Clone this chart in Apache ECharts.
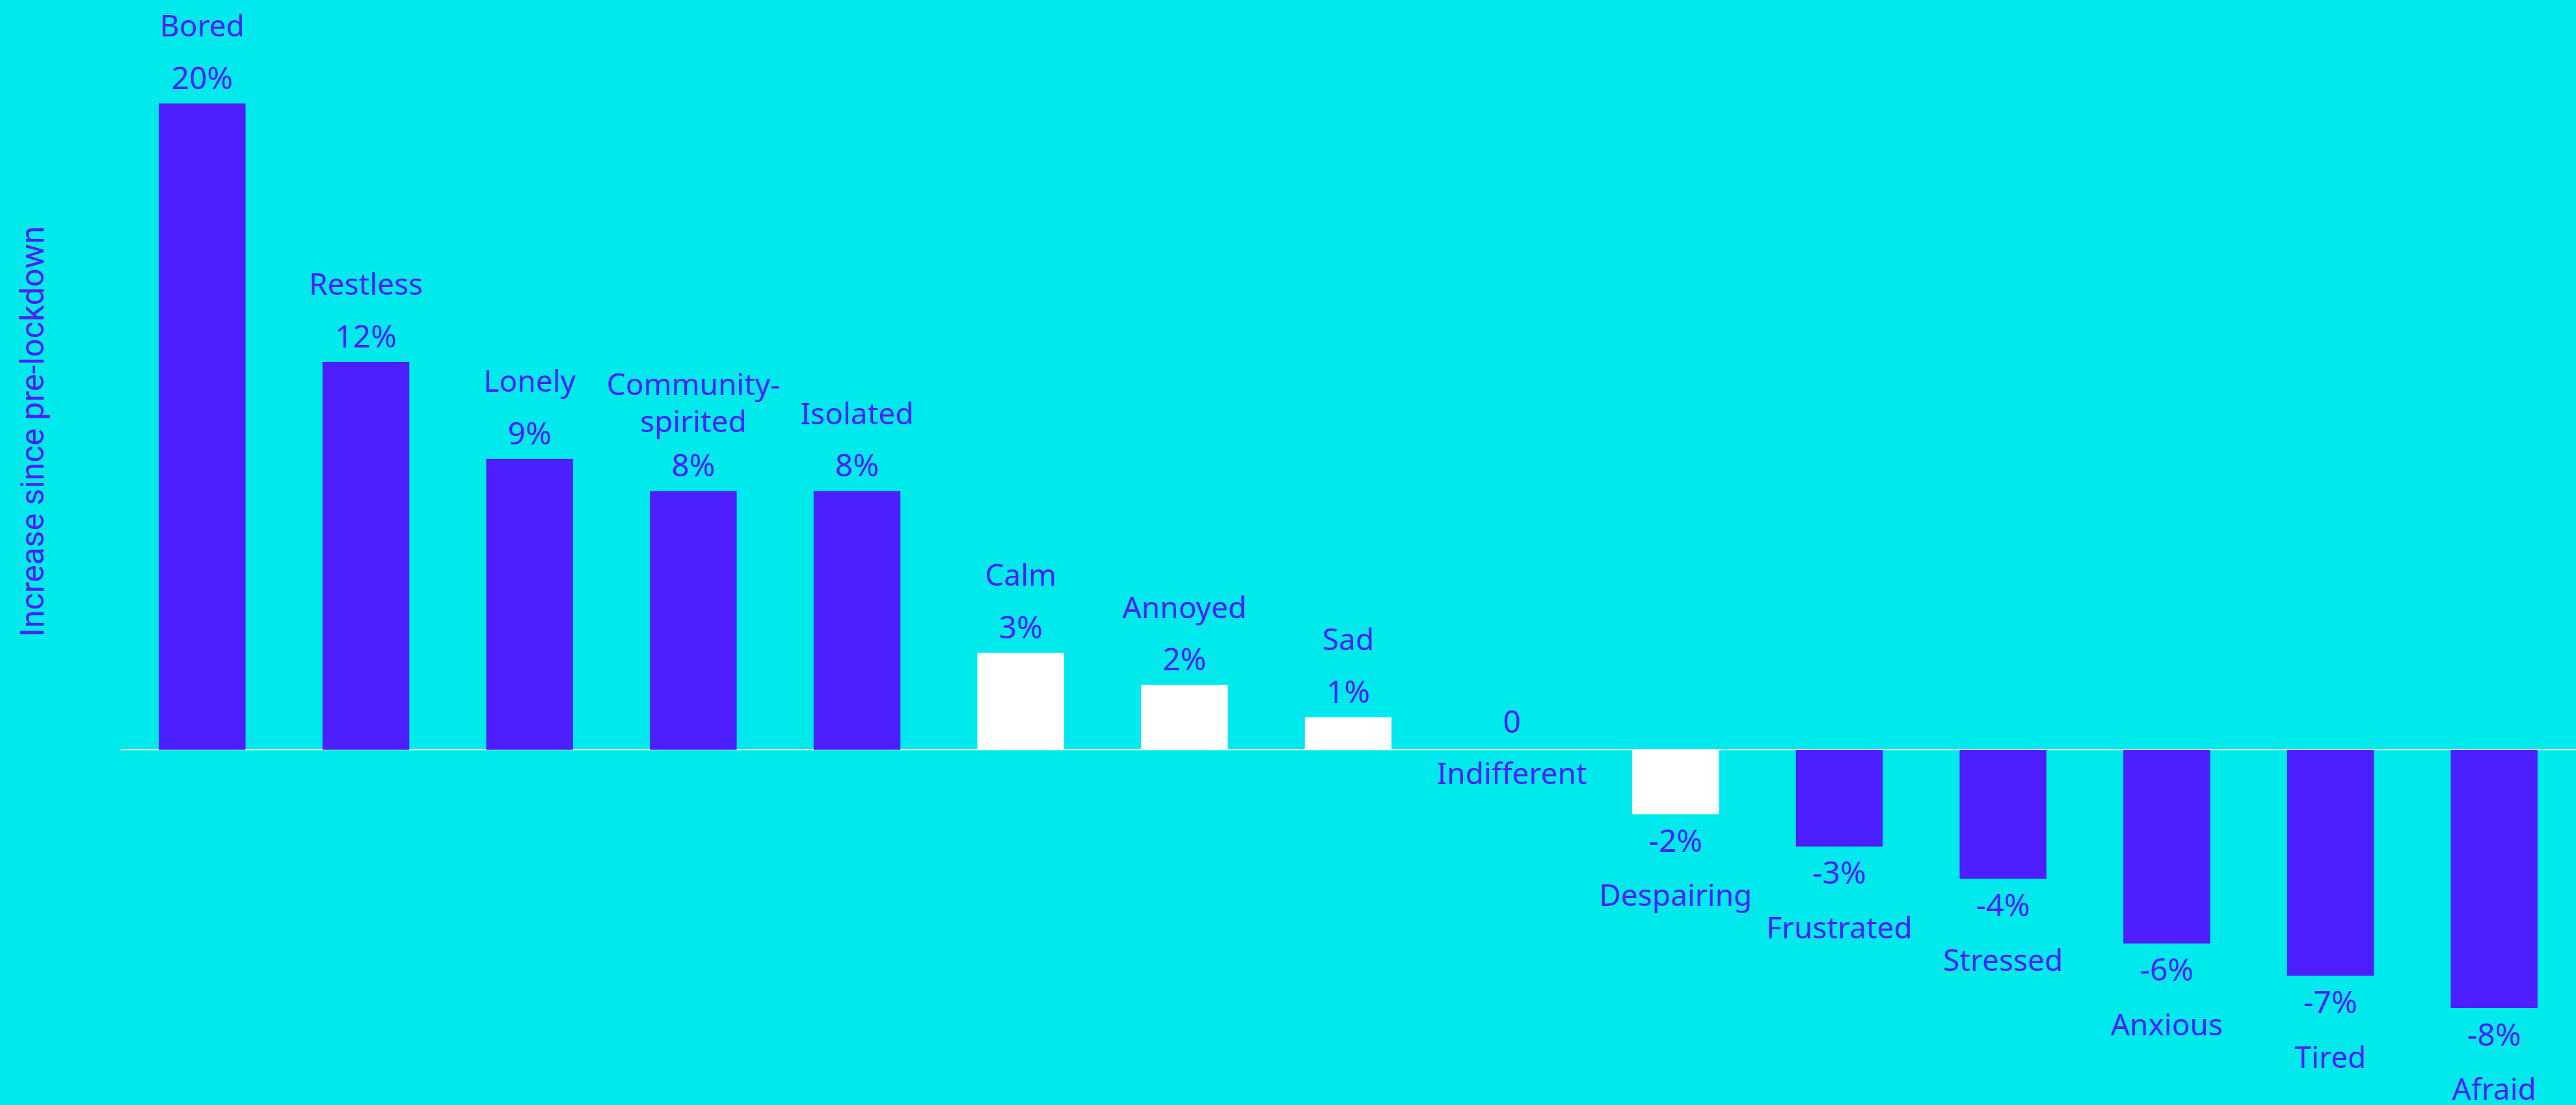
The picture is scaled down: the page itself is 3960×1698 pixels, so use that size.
<!DOCTYPE html>
<html>
<head>
<meta charset="utf-8">
<script src="https://cdn.jsdelivr.net/npm/echarts@6/dist/echarts.min.js"></script>
<style>
  html, body { margin: 0; padding: 0; background: #00e9ec; }
  #chart { width: 3960px; height: 1698px; }
</style>
</head>
<body>
<div id="chart"></div>
<script>
var categories = ['Bored', 'Restless', 'Lonely', 'Community-spirited', 'Isolated', 'Calm', 'Annoyed', 'Sad',
    'Indifferent', 'Despairing', 'Frustrated', 'Stressed', 'Anxious', 'Tired', 'Afraid'];
var values = [20, 12, 9, 8, 8, 3, 2, 1, 0, -2, -3, -4, -6, -7, -8];
var whiteBars = ['Calm', 'Annoyed', 'Sad', 'Despairing'];
var yTitle = 'Increase since pre-lockdown';

var purple = '#4d1fff';
var font = 'Noto Sans';

var chartDom = document.getElementById('chart');
var myChart = echarts.init(chartDom);

function valueText(v) {
    return v === 0 ? '0' : v + '%';
}

var data = values.map(function (v, i) {
    var name = categories[i];
    var label;
    if (v > 0) {
        var fmt;
        if (name.indexOf('-') > 0) {
            var parts = name.split('-');
            fmt = '{n2a|' + parts[0] + '-}\n{n2b|' + parts[1] + '}\n{v|' + valueText(v) + '}';
        } else {
            fmt = '{n|' + name + '}\n{v|' + valueText(v) + '}';
        }
        label = { position: 'top', distance: 0, formatter: fmt };
    } else if (v < 0) {
        label = { position: 'bottom', distance: 0, formatter: '{vb|' + valueText(v) + '}\n{nb|' + name + '}' };
    } else {
        label = { position: 'inside', formatter: '{vz|0}\n{nz|' + name + '}' };
    }
    return {
        value: v,
        name: name,
        itemStyle: { color: whiteBars.indexOf(name) >= 0 ? '#ffffff' : purple },
        label: label
    };
});

var option = {
    backgroundColor: '#00e9ec',
    animation: false,
    grid: { left: 185, right: 0, top: 10, bottom: 0 },
    graphic: [
        {
            type: 'text',
            x: 54,
            y: 663,
            rotation: Math.PI / 2,
            style: {
                text: yTitle,
                fill: purple,
                font: '50px Roboto',
                align: 'center',
                verticalAlign: 'middle'
            }
        }
    ],
    xAxis: {
        type: 'category',
        data: categories,
        axisLine: { show: true, onZero: true, lineStyle: { color: '#ffffff', width: 2 } },
        axisTick: { show: false },
        axisLabel: { show: false },
        splitLine: { show: false }
    },
    yAxis: {
        type: 'value',
        min: -11,
        max: 23,
        show: false,
        splitLine: { show: false }
    },
    series: [
        {
            type: 'bar',
            barWidth: '53%',
            data: data,
            label: {
                show: true,
                color: purple,
                fontFamily: font,
                rich: {
                    n: { fontFamily: font, fontSize: 46, color: purple, lineHeight: 88 },
                    n2a: { fontFamily: font, fontSize: 46, color: purple, lineHeight: 50 },
                    n2b: { fontFamily: font, fontSize: 46, color: purple, lineHeight: 64 },
                    v: { fontFamily: font, fontSize: 48, color: purple, lineHeight: 72 },
                    vb: { fontFamily: font, fontSize: 48, color: purple, lineHeight: 88 },
                    nb: { fontFamily: font, fontSize: 46, color: purple, lineHeight: 80 },
                    vz: { fontFamily: font, fontSize: 48, color: purple, lineHeight: 80 },
                    nz: { fontFamily: font, fontSize: 46, color: purple, lineHeight: 80 }
                }
            }
        }
    ]
};

option && myChart.setOption(option);
</script>
</body>
</html>
